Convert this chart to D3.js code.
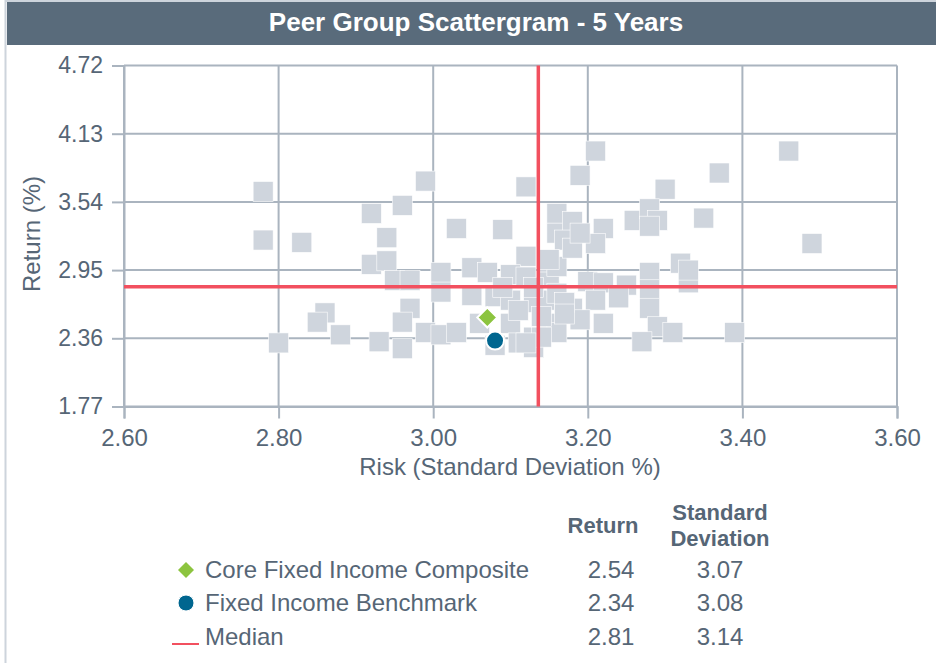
<!DOCTYPE html>
<html>
<head>
<meta charset="utf-8">
<title>Peer Group Scattergram</title>
<script src="https://cdnjs.cloudflare.com/ajax/libs/d3/7.8.5/d3.min.js"></script>
<style>
    body { margin: 0; background: #fff; }
    svg { display: block; font-family: "Liberation Sans", Arial, sans-serif; }
</style>
</head>
<body>
<svg id="chart" width="936" height="663"></svg>
<script>
    // peer group universe: [risk (std dev %), return %]
    var peers = [
        [2.78, 3.63], [2.78, 3.21], [2.83, 3.19], [2.80, 2.32], [2.92, 3.44],
        [2.96, 3.51], [2.99, 3.72], [3.12, 3.67], [3.21, 3.98], [3.19, 3.77],
        [3.30, 3.65], [3.37, 3.79], [3.46, 3.98], [3.49, 3.18], [3.39, 2.41],
        [3.35, 3.40], [2.94, 3.23], [2.92, 3.00], [2.94, 3.03], [2.95, 2.86],
        [2.97, 2.86], [3.01, 2.93], [3.01, 2.76], [2.86, 2.58], [2.85, 2.50],
        [2.88, 2.39], [2.93, 2.33], [2.97, 2.62], [2.96, 2.50], [2.96, 2.27],
        [2.99, 2.41], [3.01, 2.39], [3.03, 3.31], [3.09, 3.30], [3.12, 3.07],
        [3.05, 2.97], [3.07, 2.93], [3.10, 2.91], [3.12, 2.89], [3.15, 2.89],
        [3.16, 3.44], [3.16, 3.27], [3.15, 3.02], [3.05, 2.73], [3.08, 2.72],
        [3.10, 2.69], [3.13, 2.67], [3.15, 2.69], [3.16, 2.75], [3.06, 2.49],
        [3.10, 2.49], [3.11, 2.32], [3.13, 2.37], [3.15, 2.49], [3.16, 2.41],
        [3.03, 2.41], [3.08, 2.30], [3.13, 2.28], [3.18, 3.37], [3.22, 3.31],
        [3.17, 3.21], [3.21, 3.18], [3.26, 3.38], [3.28, 3.48], [3.29, 3.38],
        [3.28, 3.33], [3.32, 3.01], [3.33, 2.84], [3.28, 2.93], [3.20, 2.85],
        [3.22, 2.84], [3.25, 2.82], [3.28, 2.78], [3.21, 2.69], [3.24, 2.71],
        [3.28, 2.62], [3.16, 2.98], [3.18, 2.62], [3.22, 2.49], [3.29, 2.46],
        [3.31, 2.41], [3.27, 2.33], [3.19, 2.52], [3.18, 3.14], [3.15, 3.04],
        [3.33, 2.95], [3.14, 2.37], [3.12, 2.32], [3.17, 2.67], [3.19, 3.27],
        [3.14, 2.55], [3.11, 2.60], [3.17, 2.57], [3.09, 2.80], [3.13, 2.80]
    ];

    var seriesNames = ["Core Fixed Income Composite", "Fixed Income Benchmark", "Median"];
    var seriesReturn = [2.54, 2.34, 2.806];
    var seriesRisk = [3.07, 3.08, 3.136];

    var xTicks = [2.60, 2.80, 3.00, 3.20, 3.40, 3.60];
    var yTicks = [1.77, 2.36, 2.95, 3.54, 4.13, 4.72];

    var textColor = "#566676";
    var gridColor = "#aab4bf";
    var peerColor = "#cfd5dd";
    var medianColor = "#f2505f";

    var svg = d3.select("#chart");

    // frame + title bar
    svg.append("rect")
        .attr("x", 5.5).attr("y", 1).attr("width", 940).attr("height", 680)
        .attr("fill", "none").attr("stroke", "#cdd4dc").attr("stroke-width", 2);
    svg.append("rect")
        .attr("x", 7).attr("y", 2).attr("width", 929).attr("height", 43)
        .attr("fill", "#596b7b");
    svg.append("text")
        .attr("x", 476).attr("y", 31)
        .attr("text-anchor", "middle")
        .attr("fill", "#fff")
        .style("font-size", "26px").style("font-weight", "bold")
        .text("Peer Group Scattergram - 5 Years");

    var x = d3.scaleLinear().domain([2.6, 3.6]).range([124, 897]);
    var y = d3.scaleLinear().domain([1.77, 4.72]).range([406.5, 65.5]);

    // grid lines
    svg.append("g").selectAll("line.vgrid").data(xTicks)
        .enter().append("line")
        .attr("x1", d => x(d)).attr("x2", d => x(d))
        .attr("y1", y(4.72)).attr("y2", y(1.77))
        .attr("stroke", gridColor).attr("stroke-width", 2);
    svg.append("g").selectAll("line.hgrid").data(yTicks)
        .enter().append("line")
        .attr("x1", x(2.6)).attr("x2", x(3.6))
        .attr("y1", d => y(d)).attr("y2", d => y(d))
        .attr("stroke", gridColor).attr("stroke-width", 2);

    // axes
    var xAxis = svg.append("g")
        .attr("transform", "translate(0," + y(1.77) + ")")
        .call(d3.axisBottom(x).tickValues(xTicks).tickSize(12).tickPadding(10)
            .tickFormat(d3.format(".2f")));
    var yAxis = svg.append("g")
        .attr("transform", "translate(" + x(2.6) + ",0)")
        .call(d3.axisLeft(y).tickValues(yTicks).tickSize(12).tickPadding(9)
            .tickFormat(d3.format(".2f")));

    [xAxis, yAxis].forEach(function(ax) {
        ax.select(".domain").attr("stroke", gridColor).attr("stroke-width", 2);
        ax.selectAll(".tick line").attr("stroke", gridColor).attr("stroke-width", 2);
        ax.selectAll(".tick text").attr("fill", textColor)
            .style("font-family", "'Liberation Sans', Arial, sans-serif");
    });
    xAxis.selectAll(".tick text").style("font-size", "24px");
    yAxis.selectAll(".tick text").style("font-size", "23px");

    svg.append("text")
        .attr("x", 510).attr("y", 475)
        .attr("text-anchor", "middle").attr("fill", textColor)
        .style("font-size", "24px")
        .text("Risk (Standard Deviation %)");
    svg.append("text")
        .attr("transform", "translate(40,234) rotate(-90)")
        .attr("text-anchor", "middle").attr("fill", textColor)
        .style("font-size", "24px")
        .text("Return (%)");

    // peers
    var sq = 20;
    svg.append("g").selectAll("rect").data(peers)
        .enter().append("rect")
        .attr("x", d => x(d[0]) - sq / 2)
        .attr("y", d => y(d[1]) - sq / 2)
        .attr("width", sq).attr("height", sq)
        .attr("fill", peerColor)
        .attr("stroke", "#fff").attr("stroke-width", 0.6);

    // median cross
    svg.append("line")
        .attr("x1", x(seriesRisk[2])).attr("x2", x(seriesRisk[2]))
        .attr("y1", y(4.72)).attr("y2", y(1.77))
        .attr("stroke", medianColor).attr("stroke-width", 3.5);
    svg.append("line")
        .attr("x1", x(2.6)).attr("x2", x(3.6))
        .attr("y1", y(seriesReturn[2])).attr("y2", y(seriesReturn[2]))
        .attr("stroke", medianColor).attr("stroke-width", 3.5);

    // composite + benchmark
    function diamondPath(r) {
        return "M0," + (-r) + "L" + r + ",0L0," + r + "L" + (-r) + ",0Z";
    }
    svg.append("path")
        .attr("d", diamondPath(10))
        .attr("transform", "translate(" + x(seriesRisk[0]) + "," + y(seriesReturn[0]) + ")")
        .attr("fill", "#8cc43f").attr("stroke", "#fff").attr("stroke-width", 2);
    svg.append("circle")
        .attr("cx", x(seriesRisk[1])).attr("cy", y(seriesReturn[1])).attr("r", 9)
        .attr("fill", "#00668f").attr("stroke", "#fff").attr("stroke-width", 2);

    // legend table
    var lg = svg.append("g").attr("fill", textColor);
    lg.append("text").attr("x", 603).attr("y", 533).attr("text-anchor", "middle")
        .style("font-size", "22px").style("font-weight", "bold").text("Return");
    lg.append("text").attr("x", 720).attr("y", 520).attr("text-anchor", "middle")
        .style("font-size", "22px").style("font-weight", "bold").text("Standard");
    lg.append("text").attr("x", 720).attr("y", 546).attr("text-anchor", "middle")
        .style("font-size", "22px").style("font-weight", "bold").text("Deviation");

    var rowY = [578, 611, 645];
    var fmt = d3.format(".2f");
    seriesNames.forEach(function(name, i) {
        lg.append("text").attr("x", 205).attr("y", rowY[i])
            .style("font-size", "24px").text(name);
        lg.append("text").attr("x", 611).attr("y", rowY[i]).attr("text-anchor", "middle")
            .style("font-size", "24px").text(fmt(seriesReturn[i]));
        lg.append("text").attr("x", 720).attr("y", rowY[i]).attr("text-anchor", "middle")
            .style("font-size", "24px").text(fmt(seriesRisk[i]));
    });

    svg.append("path")
        .attr("d", diamondPath(8))
        .attr("transform", "translate(186," + (rowY[0] - 8) + ")")
        .attr("fill", "#8cc43f");
    svg.append("circle")
        .attr("cx", 186).attr("cy", rowY[1] - 8).attr("r", 8)
        .attr("fill", "#00668f").attr("stroke", "#fff").attr("stroke-width", 1);
    svg.append("line")
        .attr("x1", 172).attr("x2", 199).attr("y1", rowY[2] - 1).attr("y2", rowY[2] - 1)
        .attr("stroke", medianColor).attr("stroke-width", 2);
</script>
</body>
</html>
